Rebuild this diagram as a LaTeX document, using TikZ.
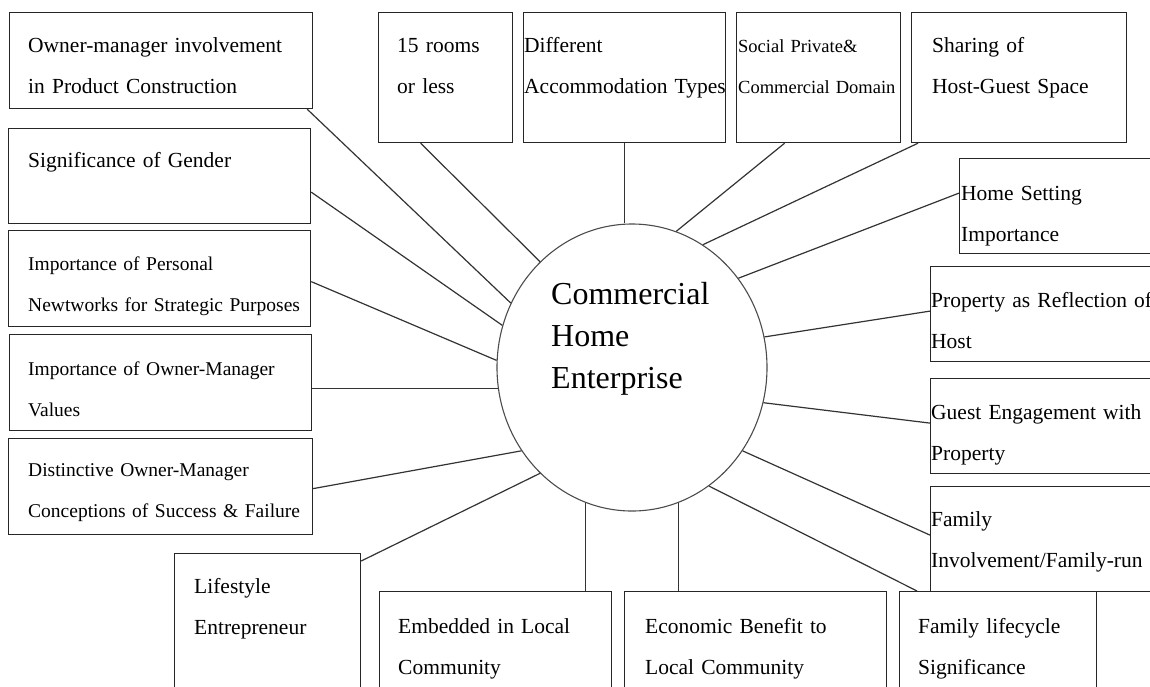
\documentclass[tikz,border=0pt]{standalone}
\usepackage{fontspec}
\setmainfont{Liberation Serif}
\usetikzlibrary{shapes.geometric}
\begin{document}
\begin{tikzpicture}[x=1pt,y=1pt,
    box/.style={draw=black!85,line width=1.2pt,anchor=north west,inner sep=0pt},
    txt/.style={anchor=base west,inner sep=0pt,align=left,text width=400pt,
      font=\fontsize{21.5}{41}\selectfont},
    small/.style={txt,font=\fontsize{19.5}{41}\selectfont}]
  \useasboundingbox (0,0) rectangle (1150,-686);
  \clip (0,0) rectangle (1150,-686);
  \fill[white] (0,0) rectangle (1150,-686);
  % centre
  \node[draw=black!70,line width=1.1pt,ellipse,minimum width=270,minimum height=287] (hub) at (632,-367.5) {};
  \node[txt,font=\fontsize{32}{42}\selectfont] (hubtxt) at (551,-304) {Commercial\\Home\\Enterprise};
  % boxes
  \node[box,minimum width=303,minimum height=96] (owner) at (9,-12) {};
  \node[box,minimum width=134,minimum height=130] (rooms) at (378,-12) {};
  \node[box,minimum width=202,minimum height=130] (diff) at (523,-12) {};
  \node[box,minimum width=164,minimum height=130] (social) at (736,-12) {};
  \node[box,minimum width=215,minimum height=130] (sharing) at (911,-12) {};
  \node[box,minimum width=210,minimum height=95] (home) at (959,-158) {};
  \node[box,minimum width=240,minimum height=95] (prop) at (930,-266) {};
  \node[box,minimum width=240,minimum height=95] (guest) at (930,-378) {};
  \node[box,minimum width=240,minimum height=105] (family) at (930,-486) {};
  \node[box,minimum width=197,minimum height=110] (cycle) at (899,-591) {};
  \node[box,minimum width=262,minimum height=110] (econ) at (624,-591) {};
  \node[box,minimum width=232,minimum height=110] (embed) at (379,-591) {};
  \node[box,minimum width=186,minimum height=150] (lifestyle) at (174,-553) {};
  \node[box,minimum width=304,minimum height=96] (distinct) at (8,-438) {};
  \node[box,minimum width=302,minimum height=96] (values) at (9,-334) {};
  \node[box,minimum width=302,minimum height=96] (network) at (8,-230) {};
  \node[box,minimum width=302,minimum height=95] (gender) at (8,-128) {};
  % texts
  \node[txt] (ownertxt) at (28,-52) {Owner-manager involvement\\in Product Construction};
  \node[txt] (roomstxt) at (397,-52) {15 rooms\\or less};
  \node[txt] (difftxt) at (524,-52) {Different\\Accommodation Types};
  \node[txt,font=\fontsize{18.5}{41}\selectfont] (socialtxt) at (738,-52) {Social Private\&\\Commercial Domain};
  \node[txt] (sharingtxt) at (932,-52) {Sharing of\\Host-Guest Space};
  \node[txt] (hometxt) at (961,-200) {Home Setting\\Importance};
  \node[txt] (proptxt) at (931,-307) {Property as Reflection of\\Host};
  \node[txt] (guesttxt) at (931,-419) {Guest Engagement with\\Property};
  \node[txt] (familytxt) at (931,-526) {Family\\Involvement/Family-run};
  \node[txt] (cycletxt) at (918,-633) {Family lifecycle\\Significance};
  \node[txt] (econtxt) at (645,-633) {Economic Benefit to\\Local Community};
  \node[txt] (embedtxt) at (398,-633) {Embedded in Local\\Community};
  \node[txt] (lifestyletxt) at (194,-593) {Lifestyle\\Entrepreneur};
  \node[small] (distincttxt) at (28,-476) {Distinctive Owner-Manager\\Conceptions of Success \& Failure};
  \node[small] (valuestxt) at (28,-375) {Importance of Owner-Manager\\Values};
  \node[small] (networktxt) at (28,-270) {Importance of Personal\\Newtworks for Strategic Purposes};
  \node[txt] (gendertxt) at (28,-167) {Significance of Gender};
  % spokes
  \begin{scope}[draw=black!80,line width=1.2pt]
    \draw ([xshift=-6pt]owner.south east) to (hub.152);
    \draw ([xshift=-25pt]rooms.south) to (hub.131);
    \draw (diff.south) to (diff.south |- hub.north);
    \draw ([xshift=-34pt]social.south) to (hub.72);
    \draw ([xshift=7pt]sharing.south west) to (hub.60);
    \draw ([yshift=13pt]home.west) to (hub.40);
    \draw ([yshift=3pt]prop.west) to (hub.13);
    \draw ([yshift=3pt]guest.west) to (hub.-15);
    \draw ([yshift=4pt]family.west) to (hub.-37);
    \draw ([xshift=18pt]cycle.north west) to (hub.-57);
    \draw (hub.-71) to (hub.-71 |- econ.north);
    \draw (hub.-109) to (hub.-109 |- embed.north);
    \draw ([yshift=-8pt]lifestyle.north east) to (hub.229);
    \draw ([yshift=-2pt]distinct.east) to (hub.217);
    \draw (hub.189) to (hub.189 -| values.east);
    \draw ([yshift=-3pt]network.east) to (hub.177);
    \draw ([yshift=-16pt]gender.east) to (hub.162);
  \end{scope}
\end{tikzpicture}
\end{document}
